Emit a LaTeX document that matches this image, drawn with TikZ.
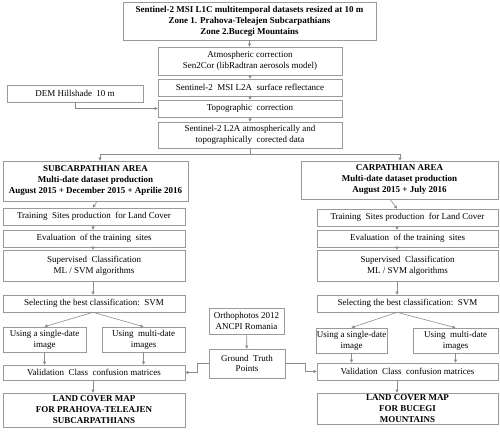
\documentclass[tikz,border=0pt]{standalone}
\usepackage{fontspec}
\setmainfont{Liberation Serif}
\usetikzlibrary{arrows.meta,calc}
\definecolor{boxc}{HTML}{9A9A9A}
\definecolor{linec}{HTML}{8C8C8C}
\tikzset{
  box/.style={draw=boxc, line width=0.6pt, inner sep=0pt, align=center,
    font=\fontsize{9}{10.8}\selectfont},
  boldbox/.style={box, font=\fontsize{9}{11}\selectfont\bfseries},
  conn/.style={draw=linec, line width=0.6pt},
  arr/.style={conn, -{Triangle[length=3pt,width=3pt]}}
}
\newcommand\mybox[7][box]{\node[#1, minimum width={(#5-#3)*1pt}, minimum height={(#6-#4)*1pt}] (#2) at ({(#3+#5)/2},{(#4+#6)/2}) {#7};}
\begin{document}
\begin{tikzpicture}[x=1pt,y=-1pt]
\useasboundingbox[fill=white] (0,0) rectangle (500,435);
% top chain
\mybox[boldbox]{top}{123}{2}{376}{40}{Sentinel-2 MSI L1C multitemporal datasets resized at 10 m\\Zone 1. Prahova-Teleajen Subcarpathians\\Zone 2.Bucegi Mountains}
\mybox{atm}{158}{47}{342}{75}{Atmospheric correction\\Sen2Cor (libRadtran aerosols model)}
\mybox{msi}{158}{79}{342}{96}{Sentinel-2\ \ MSI L2A\ \ surface reflectance}
\mybox{dem}{7}{85}{143}{102}{DEM Hillshade\ \ 10 m}
\mybox{topo}{158}{100}{342}{117}{Topographic\ \ correction}
\mybox{l2a}{158}{122}{342}{148}{Sentinel-2 L2A atmospherically and\\topographically\ \ corected data}
% areas
\mybox[boldbox]{sub}{3}{161}{188}{201}{SUBCARPATHIAN AREA\\Multi-date dataset production\\August 2015 + December 2015 + Aprilie 2016}
\mybox[boldbox]{carp}{301}{161}{498}{199}{CARPATHIAN AREA\\Multi-date dataset production\\August 2015 + July 2016}
% left column
\mybox{ltrain}{3}{208}{185}{225}{Training\ \ Sites production\ \ for Land Cover}
\mybox{leval}{3}{230}{185}{247}{Evaluation\ \ of the training\ \ sites}
\mybox{lsup}{3}{250}{185}{281}{Supervised\ \ Classification\\ML / SVM algorithms}
\mybox{lsel}{3}{295}{185}{312}{Selecting the best classification:\ \ SVM}
\mybox{lsingle}{3}{327}{86}{352}{Using\ a single-date\\image}
\mybox{lmulti}{102}{327}{185}{352}{Using\ \ multi-date\\images}
\mybox{lval}{3}{365}{185}{380}{Validation\ \ Class\ \ confusion matrices}
\mybox[boldbox]{lmap}{3}{393}{185}{427}{LAND COVER MAP\\FOR PRAHOVA-TELEAJEN\\SUBCARPATHIANS}
% right column
\mybox{rtrain}{317}{209}{498}{226}{Training\ \ Sites production\ \ for Land Cover}
\mybox{reval}{317}{230}{498}{247}{Evaluation\ \ of the training\ \ sites}
\mybox{rsup}{317}{250}{498}{281}{Supervised\ \ Classification\\ML / SVM algorithms}
\mybox{rsel}{317}{295}{498}{312}{Selecting the best classification:\ \ SVM}
\mybox{rsingle}{316}{328}{387}{353}{Using\ a single-date\\image}
\mybox{rmulti}{413}{328}{498}{353}{Using\ \ multi-date\\images}
\mybox{rval}{317}{363}{498}{380}{Validation\ \ Class\ \ confusion matrices}
\mybox[boldbox]{rmap}{317}{393}{498}{424}{LAND COVER MAP\\FOR BUCEGI\\MOUNTAINS}
% center
\mybox{ortho}{209}{308}{284}{334}{Orthophotos 2012\\ANCPI Romania}
\mybox{gt}{209}{349}{285}{378}{Ground\ \ Truth\\Points}
% coordinates
\coordinate (sl) at (100,154);
\coordinate (sr) at (400,154);
\coordinate (lx) at (93,0);
\coordinate (lx0) at (97,0);
\coordinate (rx) at (397,0);
\coordinate (rx0) at (390,0);
% connectors top
\draw[arr] (top.south) -- (top.south |- atm.north);
\draw[arr] (atm) -- (msi);
\draw[arr] (msi) -- (topo);
\draw[arr] (topo) -- (l2a);
\draw[arr] (dem.south) |- (topo.west);
\draw[conn] (l2a.south) -- (l2a.south |- sl);
\draw[conn] (sl) -- (sr);
\draw[arr] (sl) -- (sl |- sub.north);
\draw[arr] (sr) -- (sr |- carp.north);
% left
\draw[arr] (sub.south -| lx0) -- (ltrain.north -| lx);
\draw[arr] (ltrain.south -| lx) -- (leval.north -| lx);
\draw[arr] (leval.south -| lx) -- (lsup.north -| lx);
\draw[arr] (lsup.south -| lx) -- (lsel.north -| lx);
\draw[arr] (lsel.south -| lx) -- (lsingle.north);
\draw[arr] (lsel.south -| lx) -- (lmulti.north);
\draw[arr] (lsingle.south) -- (lsingle.south |- lval.north);
\draw[arr] (lmulti.south) -- (lmulti.south |- lval.north);
\draw[arr] (lval.south -| lx) -- (lmap.north -| lx);
% right
\draw[arr] (carp.south -| rx0) -- (rtrain.north -| rx);
\draw[arr] (rtrain.south -| rx) -- (reval.north -| rx);
\draw[arr] (reval.south -| rx) -- (rsup.north -| rx);
\draw[arr] (rsup.south -| rx) -- (rsel.north -| rx);
\draw[arr] (rsel.south -| rx) -- (rsingle.north);
\draw[arr] (rsel.south -| rx) -- (rmulti.north);
\draw[arr] (rsingle.south) -- (rsingle.south |- rval.north);
\draw[arr] (rmulti.south) -- (rmulti.south |- rval.north);
\draw[arr] (rval.south -| rx) -- (rmap.north -| rx);
% center
\draw[arr] (ortho) -- (gt);
\draw[arr] (gt.west) -- ++(-11,0) |- (lval.east);
\draw[arr] (gt.east) -- ++(20,0) |- (rval.west);
\end{tikzpicture}
\end{document}
